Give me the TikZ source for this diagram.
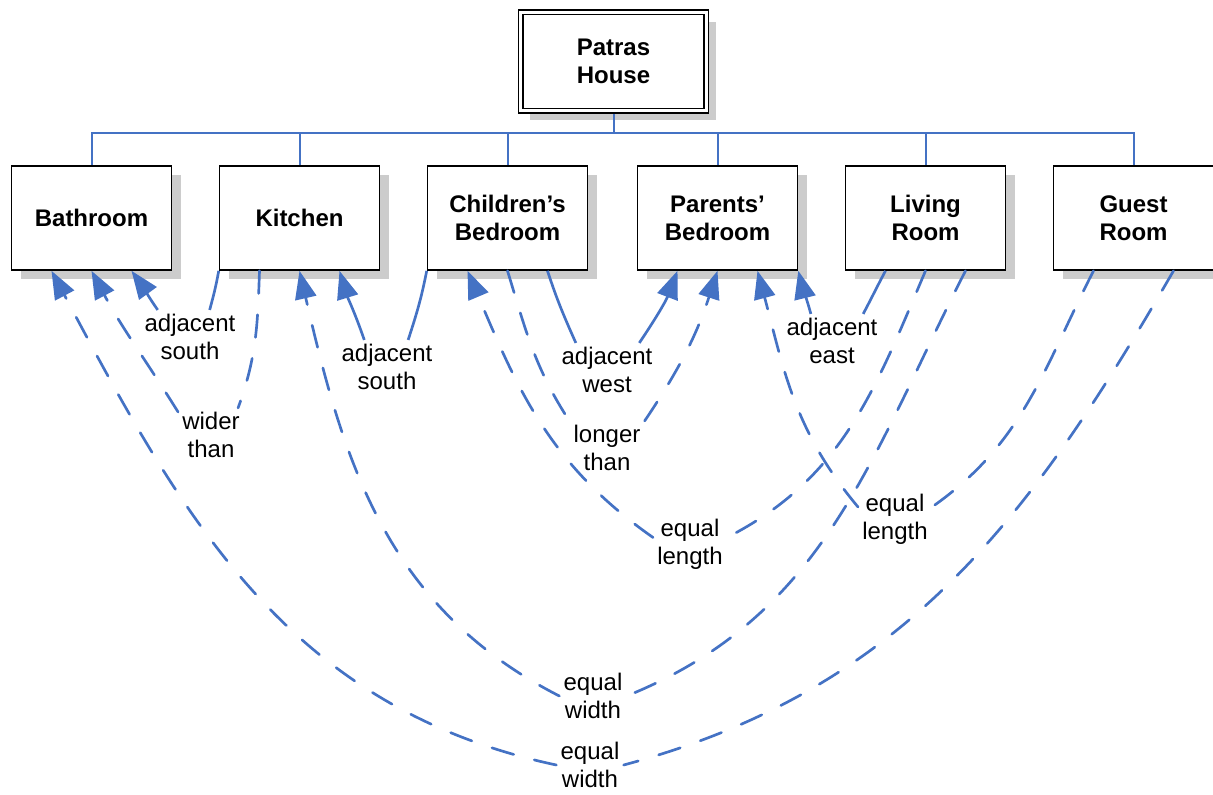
\documentclass[tikz,border=0pt]{standalone}
\usepackage{fontspec}
\setmainfont{Liberation Sans}
\usepackage{tikz}
\usetikzlibrary{arrows.meta,shadows}

\definecolor{azul}{HTML}{4472C4}

\tikzset{
  room/.style={draw, line width=1.2pt, fill=white, minimum width=120pt, minimum height=78pt,
    align=center, font=\bfseries\fontsize{18}{21}\selectfont,
    drop shadow={shadow xshift=7pt, shadow yshift=-7pt, fill=black!20, opacity=1}},
  rel/.style={align=center, inner sep=3pt, font=\fontsize{18}{21}\selectfont},
  bus/.style={azul, line width=1.5pt},
  adj/.style={azul, line width=2pt},
  cmp/.style={adj, line cap=round, dash pattern=on 17pt off 16pt},
  flecha/.style={-{Triangle[length=21pt,width=16pt]}}
}

\begin{document}
\begin{tikzpicture}[x=0.75pt,y=0.75pt]
\useasboundingbox (0,0) rectangle (1213,-794);
% Casa
\node[room, double, double distance=2.2pt, line width=1.1pt, minimum width=139pt, minimum height=74pt] (house) at (613.5,-61.5) {Patras\\House};
% Habitaciones
\node[room] (bathroom) at (91.5,-218) {Bathroom};
\node[room] (kitchen) at (299.5,-218) {Kitchen};
\node[room] (kids) at (507.5,-218) {Children's\\Bedroom};
\node[room] (parents) at (717.5,-218) {Parents'\\Bedroom};
\node[room] (living) at (925.5,-218) {Living\\Room};
\node[room] (guest) at (1133.5,-218) {Guest\\Room};
% Ramas
\coordinate (bus) at (613.5,-133);
\draw[bus] ([yshift=-2pt]house.south) -- (bus);
\draw[bus] (bus) -| (bathroom.north);
\draw[bus] (bus) -| (kitchen.north);
\draw[bus] (bus) -| (kids.north);
\draw[bus] (bus) -| (parents.north);
\draw[bus] (bus) -| (living.north);
\draw[bus] (bus) -| (guest.north);
% Etiquetas
\node[rel] (adjS1) at (190,-337) {adjacent\\south};
\node[rel] (wider) at (211,-435) {wider\\than};
\node[rel] (adjS2) at (387,-367) {adjacent\\south};
\node[rel] (adjW) at (607,-370) {adjacent\\west};
\node[rel] (longer) at (607,-448) {longer\\than};
\node[rel] (adjE) at (832,-341) {adjacent\\east};
\node[rel] (eqlen1) at (690,-544) {equal\\length};
\node[rel] (eqlen2) at (895,-519) {equal\\length};
\node[rel] (eqwid1) at (593,-696) {equal\\width};
\node[rel] (eqwid2) at (590,-765) {equal\\width};
% Kitchen - Bathroom
\draw[adj] (kitchen.south west) to[out=-100,in=75] (adjS1.54);
\draw[adj,flecha] (adjS1.140) to[out=125,in=-54] ([xshift=30pt]bathroom.south);
\draw[cmp] ([xshift=-30pt]kitchen.south) to[out=-92,in=70] (wider.45);
\draw[cmp,flecha] (wider.145) to[out=122,in=-62] (bathroom.south);
% Guest - Bathroom
\draw[cmp] ([xshift=30pt]guest.south) to[out=-120,in=15] (eqwid2.east);
\draw[cmp,flecha] (eqwid2.west) to[out=168,in=-62] ([xshift=-30pt]bathroom.south);
% Living - Kitchen
\draw[cmp] ([xshift=30pt]living.south) to[out=-117,in=22] (eqwid1.east);
\draw[cmp,flecha] (eqwid1.west) to[out=153,in=-77] (kitchen.south);
% Children's - Kitchen
\draw[adj] (kids.south west) to[out=-101,in=72] (adjS2.52);
\draw[adj,flecha] (adjS2.130) to[out=109,in=-73] ([xshift=30pt]kitchen.south);
% Living - Children's
\draw[cmp] (living.south) to[out=-113,in=27] (eqlen1.10);
\draw[cmp,flecha] (eqlen1.170) to[out=145,in=-67] ([xshift=-30pt]kids.south);
% Children's - Parents'
\draw[cmp] (kids.south) to[out=-73,in=123] (longer.north west);
\draw[cmp,flecha] (longer.north east) to[out=56,in=-108] (parents.south);
\draw[adj] ([xshift=30pt]kids.south) to[out=-72,in=114] (adjW.139);
\draw[adj,flecha] (adjW.40) to[out=56,in=-111] ([xshift=-30pt]parents.south);
% Living - Parents'
\draw[adj] ([xshift=-30pt]living.south) to[out=-118,in=62] (adjE.41);
\draw[adj,flecha] (adjE.128) to[out=105,in=-76] (parents.south east);
% Guest - Parents'
\draw[cmp] ([xshift=-30pt]guest.south) to[out=-117,in=35] (eqlen2.18);
\draw[cmp,flecha] (eqlen2.162) to[out=130,in=-75] ([xshift=30pt]parents.south);
\end{tikzpicture}
\end{document}
